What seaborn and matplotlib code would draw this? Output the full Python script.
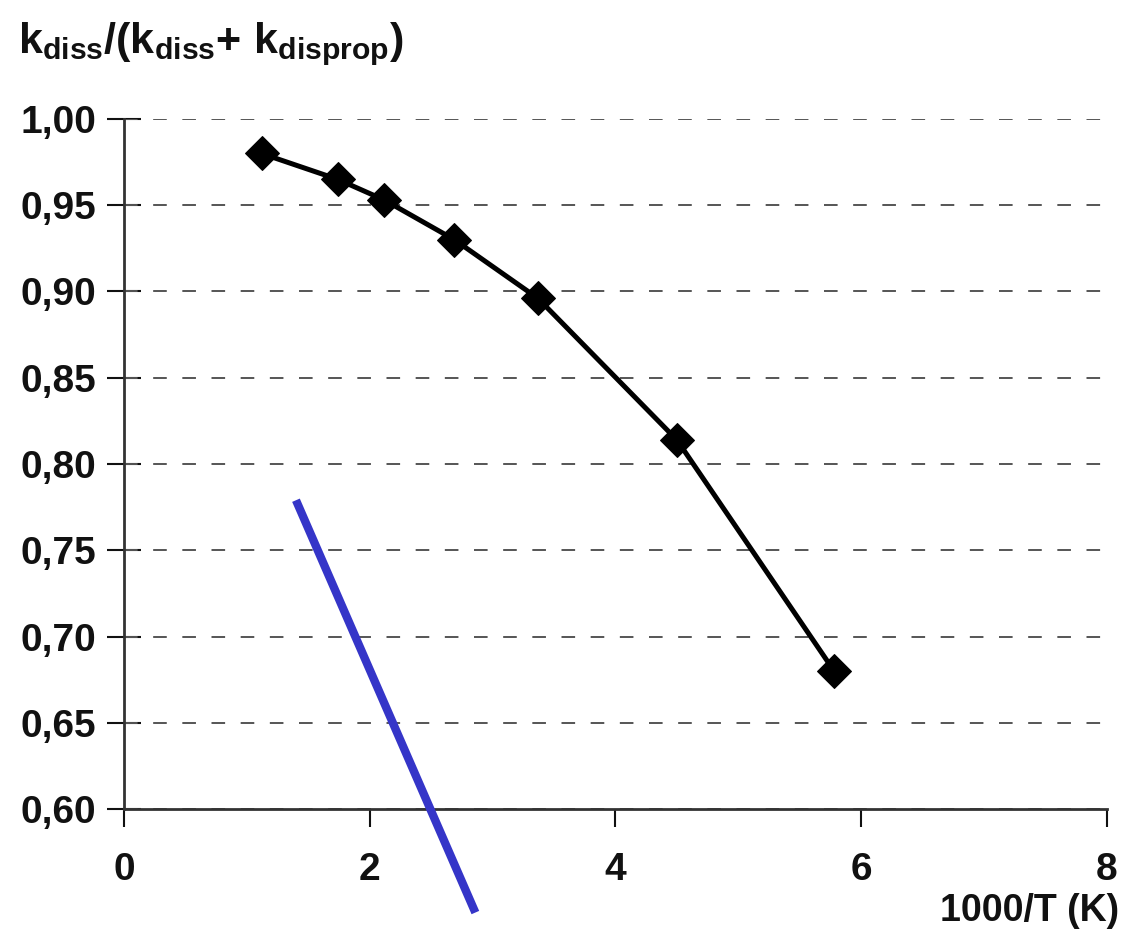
import matplotlib
matplotlib.use("Agg")
import matplotlib.pyplot as plt
import seaborn as sns
import pandas as pd

# Data
inv_T = [1.12, 1.74, 2.12, 2.69, 3.37, 4.50, 5.78]
ratio = [0.980, 0.965, 0.953, 0.930, 0.896, 0.814, 0.680]
blue_x = [1.40, 2.86]
blue_y = [0.779, 0.540]
y_ticks = [0.60, 0.65, 0.70, 0.75, 0.80, 0.85, 0.90, 0.95, 1.00]
x_ticks = [0, 2, 4, 6, 8]
y_tick_labels = ["0,60", "0,65", "0,70", "0,75", "0,80", "0,85", "0,90", "0,95", "1,00"]
x_tick_labels = ["0", "2", "4", "6", "8"]

sns.set_theme(style="white")
plt.rcParams['font.family'] = ['Liberation Sans', 'DejaVu Sans']
plt.rcParams['mathtext.fontset'] = 'custom'
plt.rcParams['mathtext.rm'] = 'Liberation Sans:bold'
plt.rcParams['mathtext.it'] = 'Liberation Sans:bold'
plt.rcParams['mathtext.bf'] = 'Liberation Sans:bold'

fig = plt.figure(figsize=(11.22, 9.39), dpi=100)
ax = fig.add_axes([0.1105, 0.1384, 0.876, 0.7349])

df = pd.DataFrame({"x": inv_T, "y": ratio})
sns.lineplot(data=df, x="x", y="y", ax=ax, color="black", linewidth=3.6,
             marker="D", markersize=17, markeredgecolor="black",
             markerfacecolor="black", sort=False, zorder=3)

ax.plot(blue_x, blue_y, color="#3535c8", linewidth=6, clip_on=False,
        solid_capstyle="butt", zorder=4)

ax.set_xlim(0, 8)
ax.set_ylim(0.60, 1.00)
ax.set_xticks(x_ticks)
ax.set_xticklabels(x_tick_labels)
ax.set_yticks(y_ticks)
ax.set_yticklabels(y_tick_labels)
ax.set_xlabel("")
ax.set_ylabel("")

for t in ax.get_yticks():
    ax.axhline(t, color="#555555", linestyle=(0, (7, 8)), linewidth=1.4, zorder=1)

for s in ["top", "right"]:
    ax.spines[s].set_visible(False)
for s in ["left", "bottom"]:
    ax.spines[s].set_color("#333333")
    ax.spines[s].set_linewidth(2)

ax.tick_params(axis="x", direction="out", length=13, width=1.5, pad=18,
               labelsize=28, bottom=True, colors="#111111")
ax.tick_params(axis="y", direction="inout", length=24, width=1.5, pad=8,
               labelsize=28, left=True, colors="#111111")
for lbl in ax.get_xticklabels() + ax.get_yticklabels():
    lbl.set_fontweight("bold")

fig.text(0.016, 0.953, r"$\mathbf{k_{diss}/(k_{diss}{+}\ k_{disprop})}$",
         fontsize=31, ha="left", va="center", color="#111111")
fig.text(0.997, 0.030, "1000/T (K)", fontsize=27, fontweight="bold",
         ha="right", va="center", color="#111111")

fig.savefig("out.png", dpi=100, facecolor="white")
